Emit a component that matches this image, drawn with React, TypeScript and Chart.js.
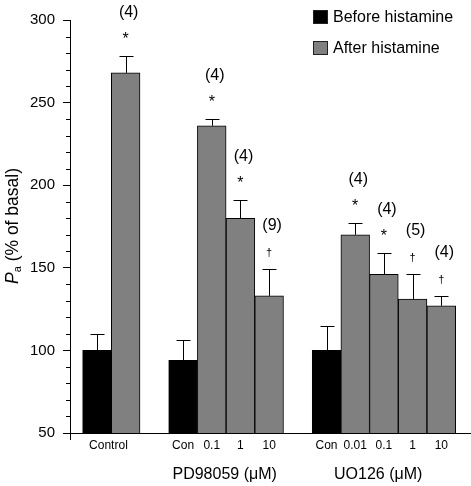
import React, { useEffect, useRef } from 'react';
import { Chart, registerables } from 'chart.js';

Chart.register(...registerables);

// ---- data ----
const seriesNames = ['Before histamine', 'After histamine'];

// slot index of each bar along the x axis (gaps separate the groups)
const beforeSlots = [0, 3, 8];
const beforeValues = [100, 94, 100];
const beforeErrors = [10, 12, 15];

const afterSlots = [1, 4, 5, 6, 9, 10, 11, 12];
const afterValues = [268, 236, 180, 133, 170, 146, 131, 127];
const afterErrors = [10, 4, 11, 16, 7, 13, 15, 6];
const afterCounts = ['(4)', '(4)', '(4)', '(9)', '(4)', '(4)', '(5)', '(4)'];
const afterMarks = ['*', '*', '*', '†', '*', '*', '†', '†'];

const tickSlots = [0.4, 3, 4, 5, 6, 8, 9, 10, 11, 12];
const tickLabels = ['Control', 'Con', '0.1', '1', '10', 'Con', '0.01', '0.1', '1', '10'];

const groupSlots = [4.45, 9.8];
const groupLabels = ['PD98059 (\u03BCM)', 'UO126 (\u03BCM)'];

const yMin = 50;
const yMax = 300;
const yMajorStep = 50;
const yMinorStep = 10;
const xMin = -0.94;
const xMax = 13;

const FONT = "'Liberation Sans', Arial, Helvetica, sans-serif";
const GRAY = '#808080';

const overlayPlugin = {
  id: 'overlay',
  afterDatasetsDraw(chart: any) {
    const ctx = chart.ctx;
    const xs = chart.scales.x;
    const ys = chart.scales.y;
    const area = chart.chartArea;
    ctx.save();
    ctx.strokeStyle = '#000';
    ctx.fillStyle = '#000';
    ctx.lineWidth = 1;

    const drawErr = (slots: number[], vals: number[], errs: number[]) => {
      slots.forEach((s, i) => {
        const x = Math.round(xs.getPixelForValue(s)) + 0.5;
        const y0 = ys.getPixelForValue(vals[i]);
        const y1 = Math.round(ys.getPixelForValue(vals[i] + errs[i])) + 0.5;
        ctx.beginPath();
        ctx.moveTo(x, y0);
        ctx.lineTo(x, y1);
        ctx.moveTo(x - 7, y1);
        ctx.lineTo(x + 7, y1);
        ctx.stroke();
      });
    };
    drawErr(beforeSlots, beforeValues, beforeErrors);
    drawErr(afterSlots, afterValues, afterErrors);

    // annotations above the "after" bars
    ctx.textAlign = 'center';
    ctx.textBaseline = 'alphabetic';
    afterSlots.forEach((s, i) => {
      const x = xs.getPixelForValue(s);
      const yc = ys.getPixelForValue(afterValues[i] + afterErrors[i]);
      const mark = afterMarks[i];
      if (mark === '*') {
        ctx.font = `16px ${FONT}`;
        ctx.fillText(mark, x, yc - 12);
      } else {
        ctx.font = `11px ${FONT}`;
        ctx.fillText(mark, x, yc - 13);
      }
      ctx.font = `16px ${FONT}`;
      ctx.fillText(afterCounts[i], x + 3, yc - 39);
    });

    // group labels under the tick labels
    ctx.font = `16px ${FONT}`;
    groupSlots.forEach((s, i) => {
      ctx.fillText(groupLabels[i], xs.getPixelForValue(s), 479);
    });

    // minor ticks on the y axis
    ctx.beginPath();
    for (let v = yMin; v <= yMax; v += yMinorStep) {
      if (v % yMajorStep === 0) continue;
      const y = Math.round(ys.getPixelForValue(v)) + 0.5;
      ctx.moveTo(area.left - 4, y);
      ctx.lineTo(area.left, y);
    }
    // axis stub below the x axis
    ctx.moveTo(area.left + 0.5, area.bottom);
    ctx.lineTo(area.left + 0.5, area.bottom + 7);
    ctx.stroke();

    // y axis title: P(italic) + subscript a + (% of basal)
    const main = ' (% of basal)';
    ctx.font = `italic 17.5px ${FONT}`;
    const wP = ctx.measureText('P').width;
    ctx.font = `11px ${FONT}`;
    const wA = ctx.measureText('a').width;
    ctx.font = `17.5px ${FONT}`;
    const wM = ctx.measureText(main).width;
    const total = wP + wA + wM;
    ctx.translate(18, 226);
    ctx.rotate(-Math.PI / 2);
    ctx.textAlign = 'left';
    let cx = -total / 2;
    ctx.font = `italic 17.5px ${FONT}`;
    ctx.fillText('P', cx, 0);
    cx += wP;
    ctx.font = `11px ${FONT}`;
    ctx.fillText('a', cx, 3);
    cx += wA;
    ctx.font = `17.5px ${FONT}`;
    ctx.fillText(main, cx, 0);
    ctx.setTransform(1, 0, 0, 1, 0, 0);

    // legend
    const legendColors = ['#000', GRAY];
    const legendTop = [10, 41];
    ctx.font = `16px ${FONT}`;
    ctx.textAlign = 'left';
    ctx.textBaseline = 'alphabetic';
    seriesNames.forEach((name, i) => {
      ctx.fillStyle = legendColors[i];
      ctx.fillRect(313, legendTop[i], 15, 14);
      ctx.strokeStyle = '#222';
      ctx.strokeRect(313.5, legendTop[i] + 0.5, 14, 13);
      ctx.fillStyle = '#000';
      ctx.fillText(name, 333, legendTop[i] + 12);
    });
    ctx.restore();
  },
};

export default function App() {
  const ref = useRef<HTMLCanvasElement>(null);
  useEffect(() => {
    if (!ref.current) return;
    const chart = new Chart(ref.current, {
      type: 'bar',
      data: {
        datasets: [
          {
            label: seriesNames[0],
            data: beforeSlots.map((s, i) => ({ x: s, y: beforeValues[i] })),
            backgroundColor: '#000',
            borderColor: '#000',
            borderWidth: 1,
            grouped: false,
            barPercentage: 1,
            categoryPercentage: 1,
          } as any,
          {
            label: seriesNames[1],
            data: afterSlots.map((s, i) => ({ x: s, y: afterValues[i] })),
            backgroundColor: GRAY,
            borderColor: '#000',
            borderWidth: 1,
            grouped: false,
            barPercentage: 1,
            categoryPercentage: 1,
          } as any,
        ],
      },
      options: {
        animation: false,
        responsive: true,
        maintainAspectRatio: false,
        layout: { padding: { top: 20, right: 1, left: 0, bottom: 0 } },
        plugins: { legend: { display: false }, tooltip: { enabled: false } },
        scales: {
          x: {
            type: 'linear',
            offset: false,
            min: xMin,
            max: xMax,
            afterBuildTicks: (s: any) => {
              s.ticks = tickSlots.map((v) => ({ value: v }));
            },
            afterFit: (s: any) => {
              s.height = 53;
            },
            grid: { display: false, drawTicks: false, offset: false },
            border: { display: true, color: '#000', width: 1 },
            ticks: {
              autoSkip: false,
              maxRotation: 0,
              minRotation: 0,
              padding: 5,
              color: '#000',
              font: { family: FONT, size: 12 },
              callback: (_v: any, i: number) => tickLabels[i],
            },
          },
          y: {
            min: yMin,
            max: yMax,
            afterFit: (s: any) => {
              s.width = 70;
            },
            ticks: {
              stepSize: yMajorStep,
              padding: 8,
              color: '#000',
              font: { family: FONT, size: 15 },
            },
            grid: { drawOnChartArea: false, tickLength: 7, color: '#000', lineWidth: 1 },
            border: { display: true, color: '#000', width: 1 },
          },
        },
      } as any,
      plugins: [overlayPlugin],
    });
    return () => chart.destroy();
  }, []);
  return (
    <div style={{ position: 'fixed', left: 0, top: 0, width: 471, height: 486, background: '#fff' }}>
      <canvas ref={ref} />
    </div>
  );
}
